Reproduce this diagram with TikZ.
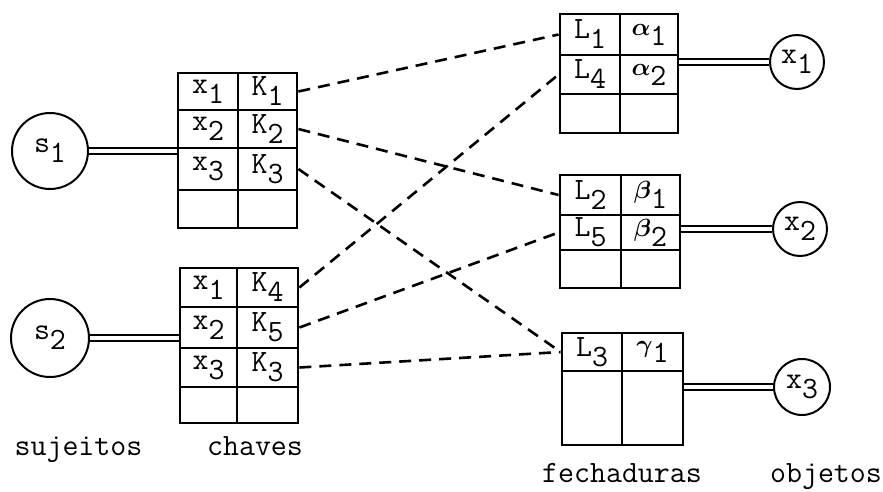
\documentclass[tikz,border=0pt]{standalone}
\usepackage{fontspec}
\newcommand\lowsub[1]{\raisebox{-10pt}{#1}}
\newcommand\gk[1]{{\boldmath$#1$}}
\begin{document}
\begin{tikzpicture}[x=1pt,y=-1pt,
  cell/.style={draw,line width=2.8pt,inner sep=0pt,anchor=center,
    font=\ttfamily\fontsize{31}{35}\selectfont},
  ring/.style={draw,circle,line width=2pt,inner sep=0pt,
    font=\ttfamily\fontsize{31}{35}\selectfont},
  link/.style={line width=2.6pt,dash pattern=on 12pt off 8pt},
  dbl/.style={double,line width=1.8pt,double distance=3.5pt},
  caption/.style={anchor=base,inner sep=0pt,font=\ttfamily\fontsize{31}{35}\selectfont}]
\useasboundingbox (0,0) rectangle (883,491);

% subjects
\node[ring,minimum size=76pt] (s1) at (50,151) {s\lowsub{1}};
\node[ring,minimum size=78pt] (s2) at (50,338) {s\lowsub{2}};

% key table of s1
\node[cell,minimum width=60pt,minimum height=37pt] (a11) at (208,91.5) {x\lowsub{1}};
\node[cell,minimum width=59pt,minimum height=37pt] (a12) at (267.5,91.5) {K\lowsub{1}};
\node[cell,minimum width=60pt,minimum height=38pt] (a21) at (208,129) {x\lowsub{2}};
\node[cell,minimum width=59pt,minimum height=38pt] (a22) at (267.5,129) {K\lowsub{2}};
\node[cell,minimum width=60pt,minimum height=42pt] (a31) at (208,169) {x\lowsub{3}};
\node[cell,minimum width=59pt,minimum height=42pt] (a32) at (267.5,169) {K\lowsub{3}};
\node[cell,minimum width=60pt,minimum height=38pt] (a41) at (208,209) {};
\node[cell,minimum width=59pt,minimum height=38pt] (a42) at (267.5,209) {};

% key table of s2
\node[cell,minimum width=57pt,minimum height=39pt] (b11) at (208.5,287.5) {x\lowsub{1}};
\node[cell,minimum width=61pt,minimum height=39pt] (b12) at (267.5,287.5) {K\lowsub{4}};
\node[cell,minimum width=57pt,minimum height=41pt] (b21) at (208.5,327.5) {x\lowsub{2}};
\node[cell,minimum width=61pt,minimum height=41pt] (b22) at (267.5,327.5) {K\lowsub{5}};
\node[cell,minimum width=57pt,minimum height=39pt] (b31) at (208.5,367.5) {x\lowsub{3}};
\node[cell,minimum width=61pt,minimum height=39pt] (b32) at (267.5,367.5) {K\lowsub{3}};
\node[cell,minimum width=57pt,minimum height=36pt] (b41) at (208.5,405) {};
\node[cell,minimum width=61pt,minimum height=36pt] (b42) at (267.5,405) {};

% lock table of x1
\node[cell,minimum width=60pt,minimum height=41pt] (c11) at (590,34.5) {L\lowsub{1}};
\node[cell,minimum width=58pt,minimum height=41pt] (c12) at (649,34.5) {\gk{\alpha}\lowsub{1}};
\node[cell,minimum width=60pt,minimum height=39pt] (c21) at (590,74.5) {L\lowsub{4}};
\node[cell,minimum width=58pt,minimum height=39pt] (c22) at (649,74.5) {\gk{\alpha}\lowsub{2}};
\node[cell,minimum width=60pt,minimum height=39pt] (c31) at (590,113.5) {};
\node[cell,minimum width=58pt,minimum height=39pt] (c32) at (649,113.5) {};

% lock table of x2
\node[cell,minimum width=61pt,minimum height=40pt] (d11) at (590.5,195) {L\lowsub{2}};
\node[cell,minimum width=59pt,minimum height=40pt] (d12) at (650.5,195) {\gk{\beta}\lowsub{1}};
\node[cell,minimum width=61pt,minimum height=35pt] (d21) at (590.5,232.5) {L\lowsub{5}};
\node[cell,minimum width=59pt,minimum height=35pt] (d22) at (650.5,232.5) {\gk{\beta}\lowsub{2}};
\node[cell,minimum width=61pt,minimum height=38pt] (d31) at (590.5,269) {};
\node[cell,minimum width=59pt,minimum height=38pt] (d32) at (650.5,269) {};

% lock table of x3
\node[cell,minimum width=60pt,minimum height=38pt] (e11) at (592,352) {L\lowsub{3}};
\node[cell,minimum width=61pt,minimum height=38pt] (e12) at (652.5,352) {\gk{\gamma}\lowsub{1}};
\node[cell,minimum width=60pt,minimum height=74pt] (e21) at (592,408) {};
\node[cell,minimum width=61pt,minimum height=74pt] (e22) at (652.5,408) {};

% objects
\node[ring,minimum size=54pt] (o1) at (797,62) {x\lowsub{1}};
\node[ring,minimum size=54pt] (o2) at (800,229) {x\lowsub{2}};
\node[ring,minimum size=56pt] (o3) at (802,387) {x\lowsub{3}};

% ownership links
\draw[dbl] (s1.east) -- (s1.east -| a31.west);
\draw[dbl] (s2.east) -- (s2.east -| b31.west);
\draw[dbl] (o1.west -| c12.east) -- (o1.west);
\draw[dbl] (o2.west -| d22.east) -- (o2.west);
\draw[dbl] (o3.west -| e22.east) -- (o3.west);

% keys fitting locks
\draw[link] (a12.east) -- (c11.west);
\draw[link] (a22.east) -- (d11.west);
\draw[link] (a32.east) -- (e11.west);
\draw[link] (b12.east) -- (c21.west);
\draw[link] (b22.east) -- (d21.west);
\draw[link] (b32.east) -- (e11.west);

% captions
\node[caption] (lsuj) at (78.5,455) {sujeitos};
\node[caption] (lcha) at (255,455) {chaves};
\node[caption] (lfec) at (622,482) {fechaduras};
\node[caption] (lobj) at (826,482) {objetos};
\end{tikzpicture}
\end{document}
